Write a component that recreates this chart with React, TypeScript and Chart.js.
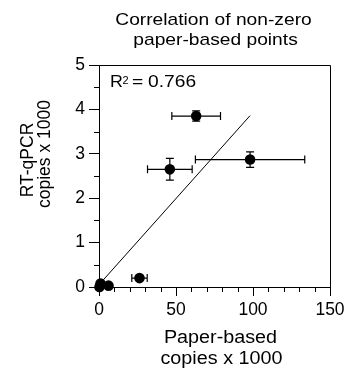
import React, { useEffect, useRef } from "react";
import { Chart, registerables } from "chart.js";

Chart.register(...registerables);

// ---------- data ----------
const titleLines = ["Correlation of non-zero", "paper-based points"];
const xTitleLines = ["Paper-based", "copies x 1000"];
const yTitleLines = ["RT-qPCR", "copies x 1000"];

const paperX = [63.1, 46.0, 98.1, 26.3, 6.2, 1.0, 0.3];
const paperXErr = [15.8, 14.5, 35.5, 5.0, 0, 0, 0];
const qpcrY = [3.85, 2.65, 2.87, 0.2, 0.03, 0.08, 0.0];
const qpcrYErr = [0.115, 0.245, 0.175, 0, 0, 0, 0];

const fitX = [1.0, 98.1];
const fitY = [0.09, 3.86];
const rSquaredValue = "0.766";

const xMin = 0;
const xMax = 150;
const xMajorStep = 50;
const xMinorStep = 10;
const yMin = 0;
const yMax = 5;
const yMajorStep = 1;
const yMinorStep = 0.5;

const FONT = '"Liberation Sans", Arial, Helvetica, sans-serif';
const SX = 1.13;

function drawText(
  ctx: CanvasRenderingContext2D,
  text: string,
  x: number,
  y: number,
  size: number,
  align: CanvasTextAlign,
  sx: number
) {
  ctx.save();
  ctx.font = `${size}px ${FONT}`;
  ctx.fillStyle = "#000";
  ctx.textAlign = align;
  ctx.textBaseline = "alphabetic";
  ctx.translate(x, y);
  ctx.scale(sx, 1);
  ctx.fillText(text, 0, 0);
  ctx.restore();
}

function drawRotated(ctx: CanvasRenderingContext2D, text: string, x: number, y: number, size: number) {
  ctx.save();
  ctx.font = `${size}px ${FONT}`;
  ctx.fillStyle = "#000";
  ctx.textAlign = "center";
  ctx.textBaseline = "alphabetic";
  ctx.translate(x, y);
  ctx.rotate(-Math.PI / 2);
  ctx.fillText(text, 0, 0);
  ctx.restore();
}

const decorPlugin = {
  id: "decor",
  beforeDatasetsDraw(chart: any) {
    const ctx: CanvasRenderingContext2D = chart.ctx;
    const xs = chart.scales.x;
    const ys = chart.scales.y;
    ctx.save();
    ctx.strokeStyle = "#000";
    ctx.lineWidth = 1.2;
    const cap = 4;
    for (let i = 0; i < paperX.length; i++) {
      const px = xs.getPixelForValue(paperX[i]);
      const py = ys.getPixelForValue(qpcrY[i]);
      if (paperXErr[i] > 0) {
        const x1 = xs.getPixelForValue(paperX[i] - paperXErr[i]);
        const x2 = xs.getPixelForValue(paperX[i] + paperXErr[i]);
        ctx.beginPath();
        ctx.moveTo(x1, py);
        ctx.lineTo(x2, py);
        ctx.moveTo(x1, py - cap);
        ctx.lineTo(x1, py + cap);
        ctx.moveTo(x2, py - cap);
        ctx.lineTo(x2, py + cap);
        ctx.stroke();
      }
      if (qpcrYErr[i] > 0) {
        const y1 = ys.getPixelForValue(qpcrY[i] - qpcrYErr[i]);
        const y2 = ys.getPixelForValue(qpcrY[i] + qpcrYErr[i]);
        ctx.beginPath();
        ctx.moveTo(px, y1);
        ctx.lineTo(px, y2);
        ctx.moveTo(px - cap, y1);
        ctx.lineTo(px + cap, y1);
        ctx.moveTo(px - cap, y2);
        ctx.lineTo(px + cap, y2);
        ctx.stroke();
      }
    }
    ctx.restore();
  },
  afterDraw(chart: any) {
    const ctx: CanvasRenderingContext2D = chart.ctx;
    const area = chart.chartArea;
    const xs = chart.scales.x;
    const ys = chart.scales.y;
    ctx.save();
    ctx.strokeStyle = "#000";
    ctx.lineWidth = 1;
    // frame top + right
    ctx.beginPath();
    ctx.moveTo(area.left, Math.round(area.top) + 0.5);
    ctx.lineTo(Math.round(area.right) + 0.5, Math.round(area.top) + 0.5);
    ctx.lineTo(Math.round(area.right) + 0.5, area.bottom);
    ctx.stroke();
    // minor ticks
    ctx.beginPath();
    for (let v = xMin + xMinorStep; v < xMax; v += xMinorStep) {
      if (Math.abs(v % xMajorStep) < 1e-6) continue;
      const p = Math.round(xs.getPixelForValue(v)) + 0.5;
      ctx.moveTo(p, area.bottom);
      ctx.lineTo(p, area.bottom + 5);
    }
    for (let v = yMin + yMinorStep; v < yMax; v += yMinorStep) {
      if (Math.abs(v % yMajorStep) < 1e-6) continue;
      const p = Math.round(ys.getPixelForValue(v)) + 0.5;
      ctx.moveTo(area.left, p);
      ctx.lineTo(area.left - 5, p);
    }
    ctx.stroke();
    ctx.restore();

    const cx = (area.left + area.right) / 2;
    // title
    drawText(ctx, titleLines[0], cx - 1, 25, 17, "center", SX);
    drawText(ctx, titleLines[1], cx + 1, 45, 17, "center", SX);
    // x title
    drawText(ctx, xTitleLines[0], cx + 6, 343, 17.5, "center", SX);
    drawText(ctx, xTitleLines[1], cx + 7, 364, 17.5, "center", SX);
    // y title (rotated)
    const yc = (area.top + area.bottom) / 2;
    drawRotated(ctx, yTitleLines[0], 32.5, yc - 16, 17.5);
    drawRotated(ctx, yTitleLines[1], 50, yc - 22, 17.5);
    // R² annotation
    const ax = area.left + 11;
    const ay = area.top + 22;
    drawText(ctx, "R", ax, ay, 17, "left", 1.05);
    drawText(ctx, "2", ax + 12.5, ay - 3.5, 10, "left", 1.1);
    drawText(ctx, "=", ax + 22, ay, 17, "left", SX);
    drawText(ctx, rSquaredValue, ax + 38, ay, 17, "left", SX);
  },
};

export default function App() {
  const canvasRef = useRef<HTMLCanvasElement | null>(null);

  useEffect(() => {
    if (!canvasRef.current) return;
    const points = paperX.map((x, i) => ({ x, y: qpcrY[i] }));
    const fit = fitX.map((x, i) => ({ x, y: fitY[i] }));
    const tickFont = { family: FONT, size: 17.5 };
    const chart = new Chart(canvasRef.current, {
      type: "scatter",
      data: {
        datasets: [
          {
            type: "line",
            data: fit,
            borderColor: "#000",
            borderWidth: 1,
            pointRadius: 0,
            fill: false,
            clip: false,
          } as any,
          {
            type: "scatter",
            data: points,
            backgroundColor: "#000",
            borderColor: "#000",
            pointRadius: 5.3,
            borderWidth: 0,
            clip: false,
          } as any,
        ],
      },
      options: {
        responsive: false,
        animation: false,
        devicePixelRatio: 1,
        layout: { padding: { top: 65, right: 20, left: 0, bottom: 0 } },
        plugins: {
          legend: { display: false },
          tooltip: { enabled: false },
          title: { display: false },
        },
        scales: {
          x: {
            type: "linear",
            min: xMin,
            max: xMax,
            afterFit: (s: any) => {
              s.height = 84;
            },
            ticks: {
              stepSize: xMajorStep,
              color: "#000",
              font: tickFont,
              padding: 4,
              maxRotation: 0,
            },
            grid: {
              drawOnChartArea: false,
              drawTicks: true,
              tickLength: 9,
              tickColor: "#000",
            },
            border: { color: "#000", width: 1 },
          },
          y: {
            type: "linear",
            min: yMin,
            max: yMax,
            afterFit: (s: any) => {
              s.width = 99;
            },
            ticks: {
              stepSize: yMajorStep,
              color: "#000",
              font: tickFont,
              padding: 4,
            },
            grid: {
              drawOnChartArea: false,
              drawTicks: true,
              tickLength: 10,
              tickColor: "#000",
            },
            border: { color: "#000", width: 1 },
          },
        },
      } as any,
      plugins: [decorPlugin],
    });
    return () => chart.destroy();
  }, []);

  return (
    <div style={{ position: "absolute", left: 0, top: 0, width: 350, height: 371, background: "#fff" }}>
      <canvas ref={canvasRef} width={350} height={371} style={{ display: "block" }} />
    </div>
  );
}
